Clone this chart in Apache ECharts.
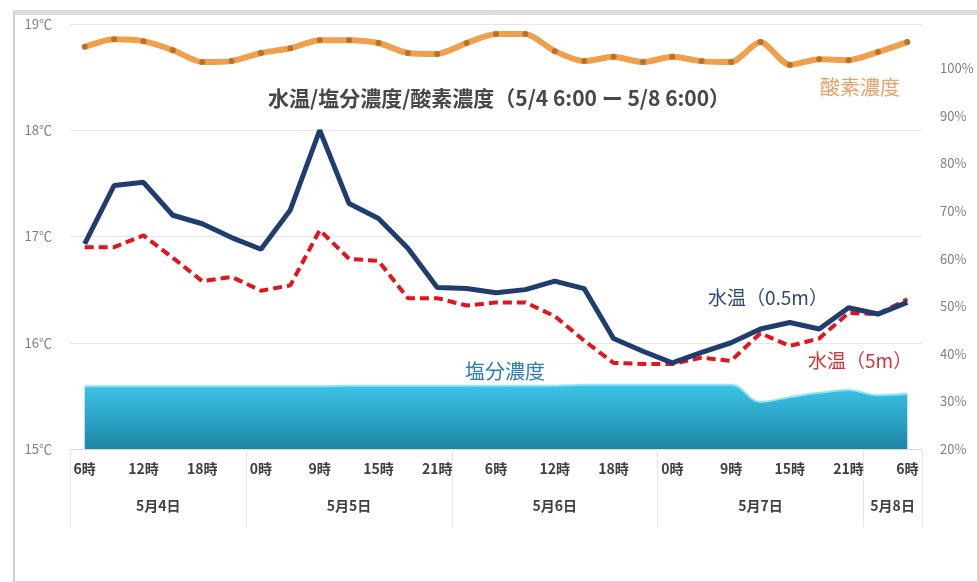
<!DOCTYPE html>
<html>
<head>
<meta charset="utf-8">
<script src="https://cdn.jsdelivr.net/npm/echarts@6/dist/echarts.min.js"></script>
<style>
html,body{margin:0;padding:0;background:#fff;}
#frame{position:absolute;left:13px;top:10px;width:962px;height:566px;border-top:5px solid #dcdcdc;border-left:2px solid #cfcfcf;border-bottom:2px solid #d6d6d6;border-right:1px solid #f0f0f0;}
#chart{position:absolute;left:0;top:0;width:977px;height:582px;}
</style>
</head>
<body>
<div id="frame"></div>
<div id="chart"></div>
<script>
// ---- data ----
const hours = ['6時','9時','12時','15時','18時','21時',
  '0時','6時','9時','12時','15時','18時','21時',
  '3時','6時','9時','12時','15時','18時','21時',
  '0時','6時','9時','12時','15時','18時','21時',
  '3時','6時'];
const days = ['5月4日','5月5日','5月6日','5月7日','5月8日'];
const pointsPerDay = [6,7,7,7,2];
const tempTicks = [15,16,17,18,19];
const pctTicks = [20,30,40,50,60,70,80,90,100];

const oxygen = [104.5,106.1,105.7,103.8,101.3,101.5,103.2,104.2,105.9,105.9,105.3,103.2,103.0,105.3,107.2,107.2,103.6,101.5,102.4,101.3,102.4,101.5,101.3,105.5,100.7,101.9,101.7,103.4,105.5];
const temp05 = [16.93,17.48,17.51,17.20,17.12,16.99,16.88,17.25,18.00,17.31,17.17,16.89,16.52,16.51,16.47,16.50,16.58,16.51,16.04,15.92,15.81,15.91,16.00,16.13,16.19,16.13,16.33,16.27,16.38];
const temp5 = [16.90,16.90,17.01,16.80,16.58,16.62,16.49,16.54,17.06,16.79,16.77,16.42,16.42,16.35,16.38,16.38,16.25,16.02,15.81,15.80,15.80,15.86,15.83,16.09,15.97,16.04,16.28,16.27,16.41];
const salinity = [33.2,33.2,33.2,33.2,33.2,33.2,33.2,33.2,33.2,33.3,33.3,33.3,33.3,33.3,33.3,33.3,33.3,33.5,33.5,33.5,33.5,33.5,33.5,29.9,30.9,31.8,32.4,31.3,31.6];

const titleText = '水温/塩分濃度/酸素濃度（5/4 6:00 ー 5/8 6:00）';
const names = {o:'酸素濃度', t05:'水温（0.5m）', t5:'水温（5m）', s:'塩分濃度'};

// group boundaries / centers for the date row
const bounds = [-0.5];
const centers = [];
let acc = 0;
pointsPerDay.forEach(n => { centers.push(acc + (n - 1) / 2); acc += n; bounds.push(acc - 0.5); });

const font = '"Noto Sans CJK JP", "Noto Sans", sans-serif';
const chart = echarts.init(document.getElementById('chart'));
chart.setOption({
  animation: false,
  textStyle: {fontFamily: font},
  title: {text: titleText, left: 268, top: 88, padding: 0,
    textStyle: {fontFamily: font, fontSize: 21, fontWeight: 'bold', color: '#474747'}},
  legend: [
    {data: [names.o], left: 815, top: 77, padding: 0, icon: 'none', itemWidth: 0, selectedMode: false, textStyle: {fontSize: 20, color: '#E9A264', fontFamily: font}},
    {data: [names.t05], left: 703, top: 288, padding: 0, icon: 'none', itemWidth: 0, selectedMode: false, textStyle: {fontSize: 19, color: '#2C4A78', fontFamily: font}},
    {data: [names.t5], left: 803, top: 351, padding: 0, icon: 'none', itemWidth: 0, selectedMode: false, textStyle: {fontSize: 19, color: '#D93434', fontFamily: font}},
    {data: [names.s], left: 460, top: 361, padding: 0, icon: 'none', itemWidth: 0, selectedMode: false, textStyle: {fontSize: 20, color: '#2B7FB0', fontFamily: font}}
  ],
  grid: {left: 70, right: 55, top: 24, bottom: 133},
  xAxis: [
    {type: 'category', data: hours, boundaryGap: true,
      axisLine: {show: true, lineStyle: {color: '#d9d9d9', width: 1}},
      axisTick: {show: false},
      axisLabel: {interval: 1, margin: 13, fontSize: 14, fontWeight: 'bold', color: '#404040', fontFamily: font},
      splitLine: {show: false}},
    {type: 'value', position: 'bottom', min: -0.5, max: pointsPerDay.reduce((a,b)=>a+b,0) - 0.5,
      axisLine: {show: false},
      axisTick: {show: true, customValues: bounds, length: 78, lineStyle: {color: '#e6e6e6'}},
      axisLabel: {customValues: centers, margin: 50, fontSize: 14, fontWeight: 'bold', color: '#404040', fontFamily: font,
        formatter: v => { const i = centers.findIndex(c => Math.abs(c - v) < 1e-6); return i >= 0 ? days[i] : ''; }},
      splitLine: {show: false}}
  ],
  yAxis: [
    {type: 'value', min: tempTicks[0], max: tempTicks[tempTicks.length-1], interval: 1,
      axisLine: {show: false}, axisTick: {show: false},
      axisLabel: {margin: 18, fontSize: 13, color: '#808080', formatter: v => v + '℃'},
      splitLine: {lineStyle: {color: '#e6e6e6', width: 1}}},
    {type: 'value', min: pctTicks[0], max: 109.3, interval: 10, position: 'right',
      axisLine: {show: false}, axisTick: {show: false}, splitLine: {show: false},
      axisLabel: {margin: 18, fontSize: 13, color: '#808080', showMaxLabel: false,
        formatter: v => pctTicks.indexOf(v) >= 0 ? v + '%' : ''}}
  ],
  series: [
    {name: names.s, type: 'line', yAxisIndex: 1, data: salinity, smooth: 0.4, symbol: 'none', z: 1,
      lineStyle: {color: '#8FE3F5', width: 2},
      areaStyle: {origin: 'start', opacity: 1,
        color: new echarts.graphic.LinearGradient(0,0,0,1,[{offset:0,color:'#3CC4E7'},{offset:1,color:'#1C86A6'}])}},
    {name: names.t5, type: 'line', yAxisIndex: 0, data: temp5, symbol: 'none', z: 3,
      lineStyle: {color: '#E3141B', width: 4, type: [9,5]}},
    {name: names.t05, type: 'line', yAxisIndex: 0, data: temp05, symbol: 'none', z: 4,
      lineStyle: {color: '#1F3D6E', width: 5}},
    {name: names.o, type: 'line', yAxisIndex: 1, data: oxygen, smooth: 0.25, symbol: 'circle', symbolSize: 6, z: 5,
      lineStyle: {color: '#F0A04B', width: 6},
      itemStyle: {color: '#B8732A', borderWidth: 0}}
  ]
});
</script>
</body>
</html>
